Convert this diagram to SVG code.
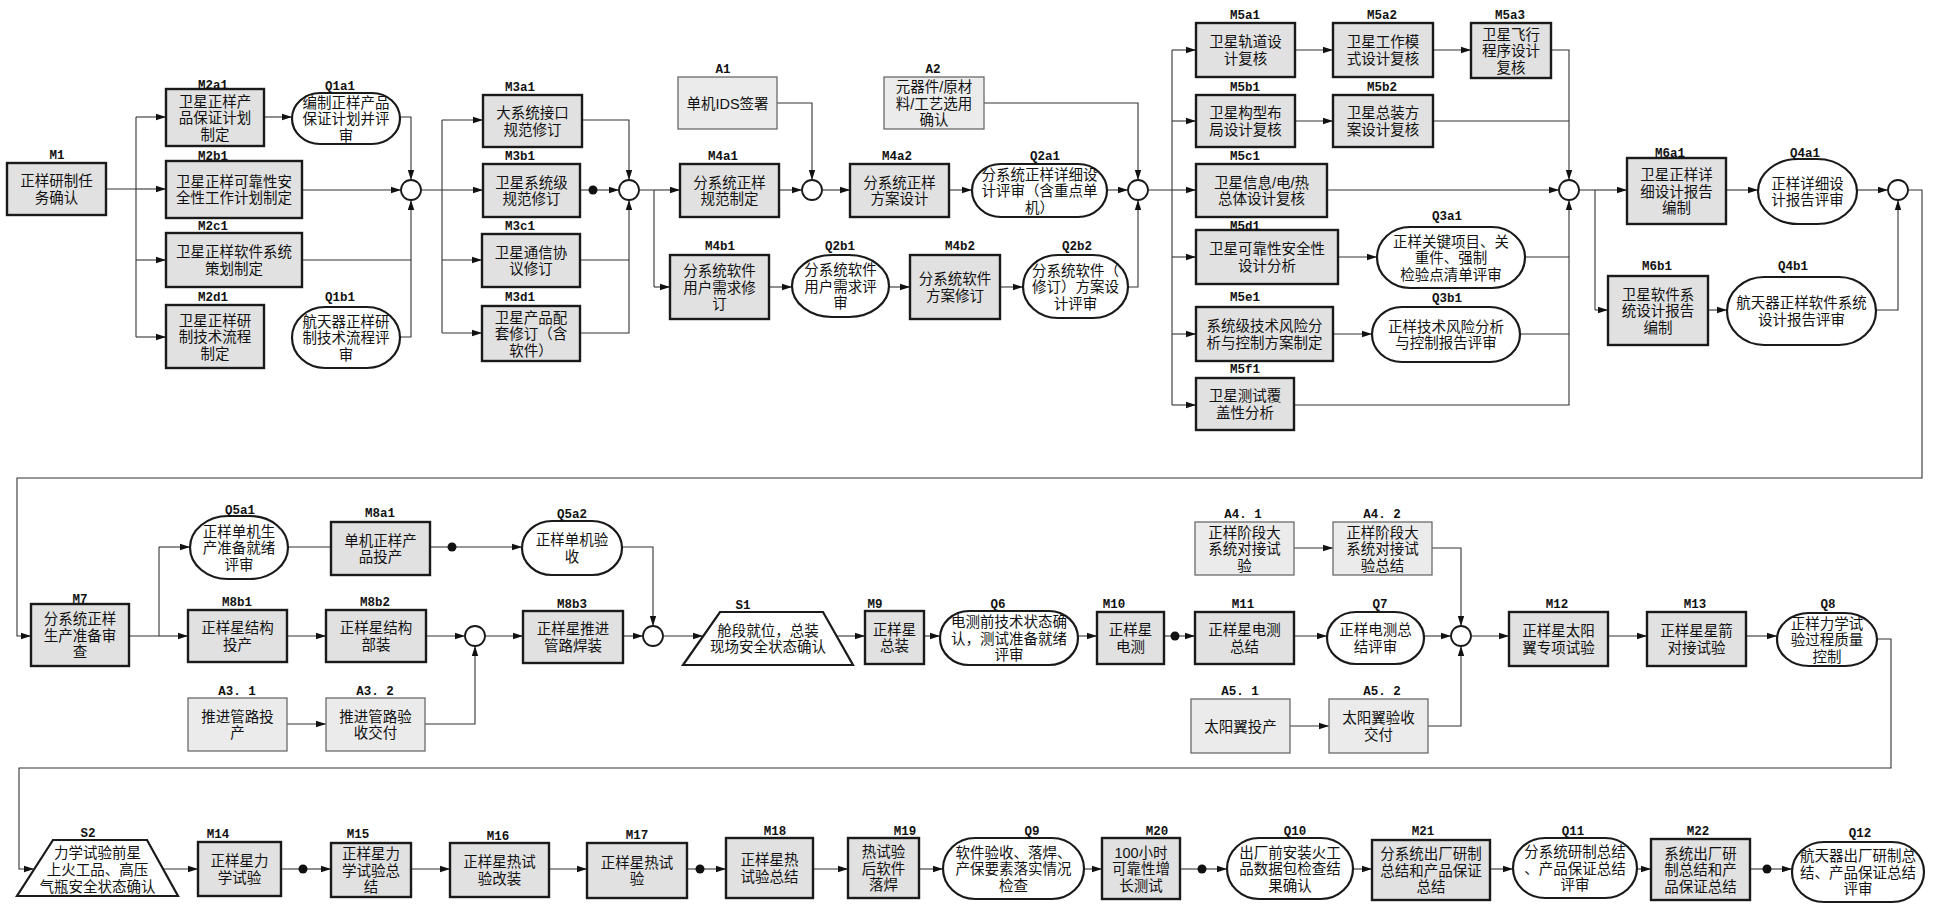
<svg xmlns="http://www.w3.org/2000/svg" width="1933" height="906" viewBox="0 0 1933 906">
<defs>
<marker id="ah" markerWidth="10" markerHeight="8" refX="10" refY="4" orient="auto" markerUnits="userSpaceOnUse"><path d="M0,0.8 L10,4 L0,7.2 z" fill="#111"/></marker>
<style>
.m{fill:#e1e1e1;stroke:#1a1a1a;stroke-width:2.4}
.a{fill:#ebebeb;stroke:#6a6a6a;stroke-width:1.3}
.q{fill:#fff;stroke:#1a1a1a;stroke-width:2.2}
.j{fill:#fff;stroke:#1a1a1a;stroke-width:1.8}
.d{fill:#111}
.t{font-family:"Liberation Sans","Noto Sans CJK SC",sans-serif;font-size:14.5px;fill:#111;text-anchor:middle}
.l{font-family:"Liberation Mono",monospace;font-size:12.5px;font-weight:bold;fill:#111;text-anchor:middle}
.c{fill:none;stroke:#333;stroke-width:1.1}
.ar{marker-end:url(#ah)}
</style>
</defs>
<rect width="1933" height="906" fill="#fff"/>
<g id="connectors">
<path class="c" d="M106 189H136M136 117V337"/>
<path class="c ar" d="M136 117H166"/><path class="c ar" d="M136 189H166"/><path class="c ar" d="M136 260H166"/><path class="c ar" d="M136 337H166"/>
<path class="c ar" d="M264 117H292"/>
<path class="c ar" d="M400 117H411V180"/>
<path class="c ar" d="M302 190H401"/>
<path class="c ar" d="M302 260H411V200"/>
<path class="c" d="M400 337H411V260"/>
<path class="c" d="M421 190H442M442 120V333"/>
<path class="c ar" d="M442 120H483"/><path class="c ar" d="M442 190H483"/><path class="c ar" d="M442 260H482"/><path class="c ar" d="M442 333H482"/>
<path class="c ar" d="M582 120H629V180"/>
<path class="c" d="M580 190H593"/><path class="c ar" d="M593 190H619"/>
<path class="c ar" d="M580 260H629V200"/>
<path class="c" d="M580 333H629V260"/>
<path class="c" d="M639 190H654M654 190V287"/>
<path class="c ar" d="M654 190H680"/><path class="c ar" d="M654 287H670"/>
<path class="c ar" d="M777 103H812V180"/>
<path class="c ar" d="M779 190H802"/>
<path class="c ar" d="M822 190H850"/>
<path class="c ar" d="M949 190H972"/>
<path class="c ar" d="M1107 190H1128"/>
<path class="c ar" d="M984 103H1138V180"/>
<path class="c ar" d="M769 287H792"/>
<path class="c ar" d="M889 287H910"/>
<path class="c ar" d="M1000 287H1023"/>
<path class="c ar" d="M1128 287H1138V200"/>
<path class="c" d="M1148 190H1172M1172 50V405"/>
<path class="c ar" d="M1172 50H1196"/><path class="c ar" d="M1172 121H1196"/><path class="c ar" d="M1172 190H1196"/><path class="c ar" d="M1172 257H1196"/><path class="c ar" d="M1172 334H1196"/><path class="c ar" d="M1172 405H1196"/>
<path class="c ar" d="M1295 50H1333"/><path class="c ar" d="M1433 50H1471"/>
<path class="c ar" d="M1551 50H1569V180"/>
<path class="c ar" d="M1295 121H1333"/>
<path class="c" d="M1433 121H1569"/>
<path class="c ar" d="M1327 190H1559"/>
<path class="c ar" d="M1338 257H1377"/>
<path class="c" d="M1525 257H1569"/>
<path class="c ar" d="M1333 334H1372"/>
<path class="c" d="M1520 334H1569"/>
<path class="c ar" d="M1294 405H1569V200"/>
<path class="c" d="M1579 190H1595M1595 190V310"/>
<path class="c ar" d="M1595 190H1627"/><path class="c ar" d="M1595 310H1608"/>
<path class="c ar" d="M1726 190H1758"/><path class="c ar" d="M1857 190H1888"/>
<path class="c ar" d="M1708 310H1727"/>
<path class="c ar" d="M1876 310H1898V200"/>
<path class="c ar" d="M1908 190H1922V478H17V636H31"/>
<path class="c" d="M129 636H159M159 547V636"/>
<path class="c ar" d="M159 547H190"/><path class="c ar" d="M159 636H188"/>
<path class="c" d="M288 547H331"/>
<path class="c" d="M430 547H452"/><path class="c ar" d="M452 547H522"/>
<path class="c ar" d="M622 547H653V626"/>
<path class="c ar" d="M287 636H326"/>
<path class="c ar" d="M426 636H465"/>
<path class="c ar" d="M287 724H326"/>
<path class="c ar" d="M425 724H475V646"/>
<path class="c ar" d="M485 636H523"/>
<path class="c ar" d="M623 636H643"/>
<path class="c ar" d="M663 636H703"/>
<path class="c ar" d="M837 636H865"/>
<path class="c ar" d="M924 636H940"/>
<path class="c ar" d="M1078 636H1097"/>
<path class="c" d="M1164 636H1175"/><path class="c ar" d="M1175 636H1195"/>
<path class="c ar" d="M1294 636H1327"/>
<path class="c ar" d="M1424 636H1451"/>
<path class="c ar" d="M1294 548H1333"/>
<path class="c ar" d="M1432 548H1461V626"/>
<path class="c ar" d="M1290 726H1329"/>
<path class="c ar" d="M1428 726H1461V646"/>
<path class="c ar" d="M1471 636H1509"/>
<path class="c ar" d="M1608 636H1647"/>
<path class="c ar" d="M1746 636H1777"/>
<path class="c ar" d="M1877 639H1891V768H19V869H34"/>
<path class="c ar" d="M163 869H198"/>
<path class="c" d="M281 869H303"/><path class="c ar" d="M303 869H331"/>
<path class="c ar" d="M411 869H450"/>
<path class="c ar" d="M549 869H587"/>
<path class="c" d="M687 869H700"/><path class="c ar" d="M700 869H726"/>
<path class="c ar" d="M813 869H848"/>
<path class="c ar" d="M919 869H943"/>
<path class="c ar" d="M1084 869H1102"/>
<path class="c" d="M1180 869H1202"/><path class="c ar" d="M1202 869H1227"/>
<path class="c ar" d="M1353 869H1372"/>
<path class="c ar" d="M1490 869H1513"/>
<path class="c ar" d="M1637 869H1651"/>
<path class="c" d="M1750 869H1767"/><path class="c ar" d="M1767 869H1792"/>
<circle class="d" cx="593" cy="190" r="4.5"/>
<circle class="d" cx="452" cy="547" r="4.5"/>
<circle class="d" cx="1175" cy="636" r="4.5"/>
<circle class="d" cx="303" cy="869" r="4.5"/>
<circle class="d" cx="700" cy="869" r="4.5"/>
<circle class="d" cx="1202" cy="869" r="4.5"/>
<circle class="d" cx="1767" cy="869" r="4.5"/>
</g>
<g id="junctions">
<circle id="J1" class="j" cx="411" cy="190" r="10"/>
<circle id="J2" class="j" cx="629" cy="190" r="10"/>
<circle id="J3" class="j" cx="812" cy="190" r="10"/>
<circle id="J4" class="j" cx="1138" cy="190" r="10"/>
<circle id="J5" class="j" cx="1569" cy="190" r="10"/>
<circle id="J6" class="j" cx="1898" cy="190" r="10"/>
<circle id="J7" class="j" cx="475" cy="636" r="10"/>
<circle id="J8" class="j" cx="653" cy="636" r="10"/>
<circle id="J9" class="j" cx="1461" cy="636" r="10"/>
</g>
<g id="M1"><rect class="m" x="7" y="163" width="99" height="52"/><text class="l" x="57" y="159">M1</text><text class="t"><tspan x="56.5" y="186.25">正样研制任</tspan><tspan x="56.5" y="202.75">务确认</tspan></text></g>
<g id="M2a1"><rect class="m" x="166" y="89" width="98" height="57"/><text class="l" x="213" y="89">M2a1</text><text class="t"><tspan x="215" y="106.5">卫星正样产</tspan><tspan x="215" y="123">品保证计划</tspan><tspan x="215" y="139.5">制定</tspan></text></g>
<g id="Q1a1"><rect class="q" x="292" y="93" width="108" height="51" rx="28" ry="25.5"/><text class="l" x="340" y="90">Q1a1</text><text class="t"><tspan x="346" y="107.5">编制正样产品</tspan><tspan x="346" y="124">保证计划并评</tspan><tspan x="346" y="140.5">审</tspan></text></g>
<g id="M2b1"><rect class="m" x="166" y="161" width="136" height="57"/><text class="l" x="213" y="160">M2b1</text><text class="t"><tspan x="234" y="186.75">卫星正样可靠性安</tspan><tspan x="234" y="203.25">全性工作计划制定</tspan></text></g>
<g id="M2c1"><rect class="m" x="166" y="233" width="136" height="54"/><text class="l" x="213" y="230">M2c1</text><text class="t"><tspan x="234" y="257.25">卫星正样软件系统</tspan><tspan x="234" y="273.75">策划制定</tspan></text></g>
<g id="M2d1"><rect class="m" x="166" y="305" width="98" height="63"/><text class="l" x="213" y="301">M2d1</text><text class="t"><tspan x="215" y="325.5">卫星正样研</tspan><tspan x="215" y="342">制技术流程</tspan><tspan x="215" y="358.5">制定</tspan></text></g>
<g id="Q1b1"><rect class="q" x="292" y="307" width="108" height="61" rx="33" ry="30.5"/><text class="l" x="340" y="301">Q1b1</text><text class="t"><tspan x="346" y="326.5">航天器正样研</tspan><tspan x="346" y="343">制技术流程评</tspan><tspan x="346" y="359.5">审</tspan></text></g>
<g id="M3a1"><rect class="m" x="483" y="95" width="99" height="52"/><text class="l" x="520" y="91">M3a1</text><text class="t"><tspan x="532.5" y="118.25">大系统接口</tspan><tspan x="532.5" y="134.75">规范修订</tspan></text></g>
<g id="M3b1"><rect class="m" x="483" y="164" width="97" height="53"/><text class="l" x="520" y="160">M3b1</text><text class="t"><tspan x="531.5" y="187.75">卫星系统级</tspan><tspan x="531.5" y="204.25">规范修订</tspan></text></g>
<g id="M3c1"><rect class="m" x="482" y="234" width="98" height="53"/><text class="l" x="520" y="230">M3c1</text><text class="t"><tspan x="531" y="257.75">卫星通信协</tspan><tspan x="531" y="274.25">议修订</tspan></text></g>
<g id="M3d1"><rect class="m" x="482" y="306" width="98" height="55"/><text class="l" x="520" y="301">M3d1</text><text class="t"><tspan x="531" y="322.5">卫星产品配</tspan><tspan x="531" y="339">套修订（含</tspan><tspan x="531" y="355.5">软件）</tspan></text></g>
<g id="A1"><rect class="a" x="678" y="77" width="99" height="52"/><text class="l" x="723" y="73">A1</text><text class="t"><tspan x="727.5" y="108.5">单机IDS签署</tspan></text></g>
<g id="M4a1"><rect class="m" x="680" y="164" width="99" height="53"/><text class="l" x="723" y="160">M4a1</text><text class="t"><tspan x="729.5" y="187.75">分系统正样</tspan><tspan x="729.5" y="204.25">规范制定</tspan></text></g>
<g id="M4a2"><rect class="m" x="850" y="164" width="99" height="53"/><text class="l" x="897" y="160">M4a2</text><text class="t"><tspan x="899.5" y="187.75">分系统正样</tspan><tspan x="899.5" y="204.25">方案设计</tspan></text></g>
<g id="A2"><rect class="a" x="884" y="77" width="100" height="52"/><text class="l" x="933" y="73">A2</text><text class="t"><tspan x="934" y="92">元器件/原材</tspan><tspan x="934" y="108.5">料/工艺选用</tspan><tspan x="934" y="125">确认</tspan></text></g>
<g id="Q2a1"><rect class="q" x="972" y="164" width="135" height="53" rx="29" ry="26.5"/><text class="l" x="1045" y="160">Q2a1</text><text class="t"><tspan x="1039.5" y="179.5">分系统正样详细设</tspan><tspan x="1039.5" y="196">计评审（含重点单</tspan><tspan x="1039.5" y="212.5">机）</tspan></text></g>
<g id="M4b1"><rect class="m" x="670" y="255" width="99" height="64"/><text class="l" x="720" y="250">M4b1</text><text class="t"><tspan x="719.5" y="276">分系统软件</tspan><tspan x="719.5" y="292.5">用户需求修</tspan><tspan x="719.5" y="309">订</tspan></text></g>
<g id="Q2b1"><rect class="q" x="792" y="255" width="97" height="62" rx="40" ry="31"/><text class="l" x="840" y="250">Q2b1</text><text class="t"><tspan x="840.5" y="275">分系统软件</tspan><tspan x="840.5" y="291.5">用户需求评</tspan><tspan x="840.5" y="308">审</tspan></text></g>
<g id="M4b2"><rect class="m" x="910" y="255" width="90" height="64"/><text class="l" x="960" y="250">M4b2</text><text class="t"><tspan x="955" y="284.25">分系统软件</tspan><tspan x="955" y="300.75">方案修订</tspan></text></g>
<g id="Q2b2"><rect class="q" x="1023" y="255" width="105" height="63" rx="35" ry="31.5"/><text class="l" x="1077" y="250">Q2b2</text><text class="t"><tspan x="1075.5" y="275.5">分系统软件（</tspan><tspan x="1075.5" y="292">修订）方案设</tspan><tspan x="1075.5" y="308.5">计评审</tspan></text></g>
<g id="M5a1"><rect class="m" x="1196" y="23" width="99" height="54"/><text class="l" x="1245" y="19">M5a1</text><text class="t"><tspan x="1245.5" y="47.25">卫星轨道设</tspan><tspan x="1245.5" y="63.75">计复核</tspan></text></g>
<g id="M5a2"><rect class="m" x="1333" y="23" width="100" height="54"/><text class="l" x="1382" y="19">M5a2</text><text class="t"><tspan x="1383" y="47.25">卫星工作模</tspan><tspan x="1383" y="63.75">式设计复核</tspan></text></g>
<g id="M5a3"><rect class="m" x="1471" y="23" width="80" height="55"/><text class="l" x="1510" y="19">M5a3</text><text class="t"><tspan x="1511" y="39.5">卫星飞行</tspan><tspan x="1511" y="56">程序设计</tspan><tspan x="1511" y="72.5">复核</tspan></text></g>
<g id="M5b1"><rect class="m" x="1196" y="95" width="99" height="52"/><text class="l" x="1245" y="91">M5b1</text><text class="t"><tspan x="1245.5" y="118.25">卫星构型布</tspan><tspan x="1245.5" y="134.75">局设计复核</tspan></text></g>
<g id="M5b2"><rect class="m" x="1333" y="95" width="100" height="52"/><text class="l" x="1382" y="91">M5b2</text><text class="t"><tspan x="1383" y="118.25">卫星总装方</tspan><tspan x="1383" y="134.75">案设计复核</tspan></text></g>
<g id="M5c1"><rect class="m" x="1196" y="164" width="131" height="53"/><text class="l" x="1245" y="160">M5c1</text><text class="t"><tspan x="1261.5" y="187.75">卫星信息/电/热</tspan><tspan x="1261.5" y="204.25">总体设计复核</tspan></text></g>
<g id="M5d1"><rect class="m" x="1196" y="230" width="142" height="54"/><text class="l" x="1245" y="230">M5d1</text><text class="t"><tspan x="1267" y="254.25">卫星可靠性安全性</tspan><tspan x="1267" y="270.75">设计分析</tspan></text></g>
<g id="Q3a1"><rect class="q" x="1377" y="227" width="148" height="61" rx="33" ry="30.5"/><text class="l" x="1447" y="220">Q3a1</text><text class="t"><tspan x="1451" y="246.5">正样关键项目、关</tspan><tspan x="1451" y="263">重件、强制</tspan><tspan x="1451" y="279.5">检验点清单评审</tspan></text></g>
<g id="M5e1"><rect class="m" x="1196" y="307" width="137" height="54"/><text class="l" x="1245" y="301">M5e1</text><text class="t"><tspan x="1264.5" y="331.25">系统级技术风险分</tspan><tspan x="1264.5" y="347.75">析与控制方案制定</tspan></text></g>
<g id="Q3b1"><rect class="q" x="1372" y="307" width="148" height="55" rx="30" ry="27.5"/><text class="l" x="1447" y="302">Q3b1</text><text class="t"><tspan x="1446" y="331.75">正样技术风险分析</tspan><tspan x="1446" y="348.25">与控制报告评审</tspan></text></g>
<g id="M5f1"><rect class="m" x="1196" y="378" width="98" height="52"/><text class="l" x="1245" y="373">M5f1</text><text class="t"><tspan x="1245" y="401.25">卫星测试覆</tspan><tspan x="1245" y="417.75">盖性分析</tspan></text></g>
<g id="M6a1"><rect class="m" x="1627" y="158" width="99" height="66"/><text class="l" x="1670" y="157">M6a1</text><text class="t"><tspan x="1676.5" y="180">卫星正样详</tspan><tspan x="1676.5" y="196.5">细设计报告</tspan><tspan x="1676.5" y="213">编制</tspan></text></g>
<g id="Q4a1"><rect class="q" x="1758" y="159" width="99" height="65" rx="40" ry="32.5"/><text class="l" x="1805" y="157">Q4a1</text><text class="t"><tspan x="1807.5" y="188.75">正样详细设</tspan><tspan x="1807.5" y="205.25">计报告评审</tspan></text></g>
<g id="M6b1"><rect class="m" x="1608" y="276" width="100" height="69"/><text class="l" x="1657" y="270">M6b1</text><text class="t"><tspan x="1658" y="299.5">卫星软件系</tspan><tspan x="1658" y="316">统设计报告</tspan><tspan x="1658" y="332.5">编制</tspan></text></g>
<g id="Q4b1"><rect class="q" x="1727" y="277" width="149" height="68" rx="37" ry="34"/><text class="l" x="1793" y="270">Q4b1</text><text class="t"><tspan x="1801.5" y="308.25">航天器正样软件系统</tspan><tspan x="1801.5" y="324.75">设计报告评审</tspan></text></g>
<g id="M7"><rect class="m" x="31" y="604" width="98" height="62"/><text class="l" x="80" y="603">M7</text><text class="t"><tspan x="80" y="624">分系统正样</tspan><tspan x="80" y="640.5">生产准备审</tspan><tspan x="80" y="657">查</tspan></text></g>
<g id="Q5a1"><rect class="q" x="190" y="516" width="98" height="63" rx="38" ry="31.5"/><text class="l" x="240" y="514">Q5a1</text><text class="t"><tspan x="239" y="536.5">正样单机生</tspan><tspan x="239" y="553">产准备就绪</tspan><tspan x="239" y="569.5">评审</tspan></text></g>
<g id="M8a1"><rect class="m" x="331" y="522" width="99" height="53"/><text class="l" x="380" y="517">M8a1</text><text class="t"><tspan x="380.5" y="545.75">单机正样产</tspan><tspan x="380.5" y="562.25">品投产</tspan></text></g>
<g id="Q5a2"><rect class="q" x="522" y="521" width="100" height="54" rx="30" ry="27"/><text class="l" x="572" y="518">Q5a2</text><text class="t"><tspan x="572" y="545.25">正样单机验</tspan><tspan x="572" y="561.75">收</tspan></text></g>
<g id="M8b1"><rect class="m" x="188" y="610" width="99" height="52"/><text class="l" x="237" y="606">M8b1</text><text class="t"><tspan x="237.5" y="633.25">正样星结构</tspan><tspan x="237.5" y="649.75">投产</tspan></text></g>
<g id="M8b2"><rect class="m" x="326" y="610" width="100" height="52"/><text class="l" x="375" y="606">M8b2</text><text class="t"><tspan x="376" y="633.25">正样星结构</tspan><tspan x="376" y="649.75">部装</tspan></text></g>
<g id="A3.1"><rect class="a" x="188" y="698" width="99" height="53"/><text class="l" x="237" y="695">A3. 1</text><text class="t"><tspan x="237.5" y="721.75">推进管路投</tspan><tspan x="237.5" y="738.25">产</tspan></text></g>
<g id="A3.2"><rect class="a" x="326" y="698" width="99" height="53"/><text class="l" x="375" y="695">A3. 2</text><text class="t"><tspan x="375.5" y="721.75">推进管路验</tspan><tspan x="375.5" y="738.25">收交付</tspan></text></g>
<g id="M8b3"><rect class="m" x="523" y="611" width="100" height="52"/><text class="l" x="572" y="608">M8b3</text><text class="t"><tspan x="573" y="634.25">正样星推进</tspan><tspan x="573" y="650.75">管路焊装</tspan></text></g>
<g id="S1"><polygon class="q" points="720,612 823,612 853,665 683,665"/><text class="l" x="743" y="609">S1</text><text class="t"><tspan x="768" y="635.75">舱段就位，总装</tspan><tspan x="768" y="652.25">现场安全状态确认</tspan></text></g>
<g id="M9"><rect class="m" x="865" y="611" width="59" height="53"/><text class="l" x="875" y="608">M9</text><text class="t"><tspan x="894.5" y="634.75">正样星</tspan><tspan x="894.5" y="651.25">总装</tspan></text></g>
<g id="Q6"><rect class="q" x="940" y="611" width="138" height="54" rx="29" ry="27"/><text class="l" x="998" y="608">Q6</text><text class="t"><tspan x="1009" y="627">电测前技术状态确</tspan><tspan x="1009" y="643.5">认，测试准备就绪</tspan><tspan x="1009" y="660">评审</tspan></text></g>
<g id="M10"><rect class="m" x="1097" y="612" width="67" height="52"/><text class="l" x="1114" y="608">M10</text><text class="t"><tspan x="1130.5" y="635.25">正样星</tspan><tspan x="1130.5" y="651.75">电测</tspan></text></g>
<g id="M11"><rect class="m" x="1195" y="612" width="99" height="52"/><text class="l" x="1243" y="608">M11</text><text class="t"><tspan x="1244.5" y="635.25">正样星电测</tspan><tspan x="1244.5" y="651.75">总结</tspan></text></g>
<g id="Q7"><rect class="q" x="1327" y="612" width="97" height="52" rx="29" ry="26"/><text class="l" x="1380" y="608">Q7</text><text class="t"><tspan x="1375.5" y="635.25">正样电测总</tspan><tspan x="1375.5" y="651.75">结评审</tspan></text></g>
<g id="A4.1"><rect class="a" x="1195" y="522" width="99" height="53"/><text class="l" x="1243" y="518">A4. 1</text><text class="t"><tspan x="1244.5" y="537.5">正样阶段大</tspan><tspan x="1244.5" y="554">系统对接试</tspan><tspan x="1244.5" y="570.5">验</tspan></text></g>
<g id="A4.2"><rect class="a" x="1333" y="522" width="99" height="53"/><text class="l" x="1382" y="518">A4. 2</text><text class="t"><tspan x="1382.5" y="537.5">正样阶段大</tspan><tspan x="1382.5" y="554">系统对接试</tspan><tspan x="1382.5" y="570.5">验总结</tspan></text></g>
<g id="A5.1"><rect class="a" x="1191" y="699" width="99" height="54"/><text class="l" x="1240" y="695">A5. 1</text><text class="t"><tspan x="1240.5" y="731.5">太阳翼投产</tspan></text></g>
<g id="A5.2"><rect class="a" x="1329" y="699" width="99" height="54"/><text class="l" x="1382" y="695">A5. 2</text><text class="t"><tspan x="1378.5" y="723.25">太阳翼验收</tspan><tspan x="1378.5" y="739.75">交付</tspan></text></g>
<g id="M12"><rect class="m" x="1509" y="612" width="99" height="54"/><text class="l" x="1557" y="608">M12</text><text class="t"><tspan x="1558.5" y="636.25">正样星太阳</tspan><tspan x="1558.5" y="652.75">翼专项试验</tspan></text></g>
<g id="M13"><rect class="m" x="1647" y="612" width="99" height="54"/><text class="l" x="1695" y="608">M13</text><text class="t"><tspan x="1696.5" y="636.25">正样星星箭</tspan><tspan x="1696.5" y="652.75">对接试验</tspan></text></g>
<g id="Q8"><rect class="q" x="1777" y="613" width="100" height="53" rx="32" ry="26.5"/><text class="l" x="1828" y="608">Q8</text><text class="t"><tspan x="1827" y="628.5">正样力学试</tspan><tspan x="1827" y="645">验过程质量</tspan><tspan x="1827" y="661.5">控制</tspan></text></g>
<g id="S2"><polygon class="q" points="53,840 147,840 178,896 17,896"/><text class="l" x="88" y="837">S2</text><text class="t"><tspan x="97.5" y="857.5">力学试验前星</tspan><tspan x="97.5" y="874.5">上火工品、高压</tspan><tspan x="97.5" y="891.5">气瓶安全状态确认</tspan></text></g>
<g id="M14"><rect class="m" x="198" y="842" width="83" height="54"/><text class="l" x="218" y="838">M14</text><text class="t"><tspan x="239.5" y="866.25">正样星力</tspan><tspan x="239.5" y="882.75">学试验</tspan></text></g>
<g id="M15"><rect class="m" x="331" y="843" width="80" height="54"/><text class="l" x="358" y="838">M15</text><text class="t"><tspan x="371" y="859">正样星力</tspan><tspan x="371" y="875.5">学试验总</tspan><tspan x="371" y="892">结</tspan></text></g>
<g id="M16"><rect class="m" x="450" y="843" width="99" height="54"/><text class="l" x="498" y="840">M16</text><text class="t"><tspan x="499.5" y="867.25">正样星热试</tspan><tspan x="499.5" y="883.75">验改装</tspan></text></g>
<g id="M17"><rect class="m" x="587" y="843" width="100" height="55"/><text class="l" x="637" y="839">M17</text><text class="t"><tspan x="637" y="867.75">正样星热试</tspan><tspan x="637" y="884.25">验</tspan></text></g>
<g id="M18"><rect class="m" x="726" y="838" width="87" height="60"/><text class="l" x="775" y="835">M18</text><text class="t"><tspan x="769.5" y="865.25">正样星热</tspan><tspan x="769.5" y="881.75">试验总结</tspan></text></g>
<g id="M19"><rect class="m" x="848" y="838" width="71" height="60"/><text class="l" x="905" y="835">M19</text><text class="t"><tspan x="883.5" y="857">热试验</tspan><tspan x="883.5" y="873.5">后软件</tspan><tspan x="883.5" y="890">落焊</tspan></text></g>
<g id="Q9"><rect class="q" x="943" y="838" width="141" height="61" rx="32" ry="30.5"/><text class="l" x="1032" y="835">Q9</text><text class="t"><tspan x="1013.5" y="857.5">软件验收、落焊、</tspan><tspan x="1013.5" y="874">产保要素落实情况</tspan><tspan x="1013.5" y="890.5">检查</tspan></text></g>
<g id="M20"><rect class="m" x="1102" y="838" width="78" height="61"/><text class="l" x="1157" y="835">M20</text><text class="t"><tspan x="1141" y="857.5">100小时</tspan><tspan x="1141" y="874">可靠性增</tspan><tspan x="1141" y="890.5">长测试</tspan></text></g>
<g id="Q10"><rect class="q" x="1227" y="838" width="126" height="61" rx="32" ry="30.5"/><text class="l" x="1295" y="835">Q10</text><text class="t"><tspan x="1290" y="857.5">出厂前安装火工</tspan><tspan x="1290" y="874">品数据包检查结</tspan><tspan x="1290" y="890.5">果确认</tspan></text></g>
<g id="M21"><rect class="m" x="1372" y="840" width="118" height="60"/><text class="l" x="1423" y="835">M21</text><text class="t"><tspan x="1431" y="859">分系统出厂研制</tspan><tspan x="1431" y="875.5">总结和产品保证</tspan><tspan x="1431" y="892">总结</tspan></text></g>
<g id="Q11"><rect class="q" x="1513" y="838" width="124" height="60" rx="32" ry="30"/><text class="l" x="1573" y="835">Q11</text><text class="t"><tspan x="1575" y="857">分系统研制总结</tspan><tspan x="1575" y="873.5">、产品保证总结</tspan><tspan x="1575" y="890">评审</tspan></text></g>
<g id="M22"><rect class="m" x="1651" y="839" width="99" height="61"/><text class="l" x="1698" y="835">M22</text><text class="t"><tspan x="1700.5" y="858.5">系统出厂研</tspan><tspan x="1700.5" y="875">制总结和产</tspan><tspan x="1700.5" y="891.5">品保证总结</tspan></text></g>
<g id="Q12"><rect class="q" x="1792" y="842" width="132" height="60" rx="32" ry="30"/><text class="l" x="1860" y="837">Q12</text><text class="t"><tspan x="1858" y="861">航天器出厂研制总</tspan><tspan x="1858" y="877.5">结、产品保证总结</tspan><tspan x="1858" y="894">评审</tspan></text></g>
</svg>
